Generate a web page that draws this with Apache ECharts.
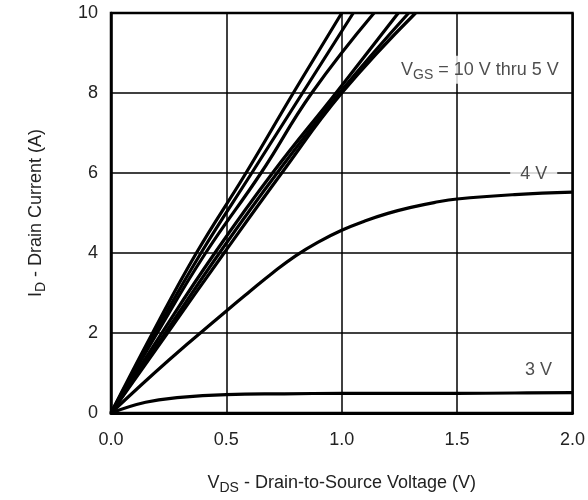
<!DOCTYPE html>
<html>
<head>
<meta charset="utf-8">
<script src="https://cdn.jsdelivr.net/npm/echarts@6/dist/echarts.min.js"></script>
<style>
  html, body { margin: 0; padding: 0; background: #fff; }
  #chart { width: 588px; height: 500px; }
</style>
</head>
<body>
<div id="chart"></div>
<script>
// Output characteristics: drain current vs drain-to-source voltage, one curve per gate voltage
const xTicks = [0.0, 0.5, 1.0, 1.5, 2.0];
const yTicks = [0, 2, 4, 6, 8, 10];

// High gate-voltage family (10 V down to 5 V), [VDS, ID]
const vgs10 = [[0, 0], [0.18, 2], [0.37, 4], [0.585, 6], [0.79, 8], [1.0, 10]];
const vgs9  = [[0, 0], [0.19, 2], [0.39, 4], [0.61, 6], [0.83, 8], [1.05, 10]];
const vgs8  = [[0, 0], [0.20, 2], [0.41, 4], [0.65, 6], [0.87, 8], [1.14, 10]];
const vgs7  = [[0, 0], [0.22, 2], [0.45, 4], [0.70, 6], [0.975, 8], [1.245, 10]];
const vgs6  = [[0, 0], [0.235, 2], [0.47, 4], [0.72, 6], [0.99, 8], [1.29, 10]];
const vgs5  = [[0, 0], [0.245, 2], [0.49, 4], [0.74, 6], [1.0, 8], [1.32, 10]];

// VGS = 4 V
const vgs4 = [[0, 0], [0.25, 1.32], [0.5, 2.55], [0.6, 3.03], [0.7, 3.5], [0.8, 3.93], [0.9, 4.28],
              [1.0, 4.57], [1.1, 4.8], [1.2, 4.99], [1.3, 5.14], [1.4, 5.26], [1.5, 5.35], [1.75, 5.46], [2.0, 5.52]];

// VGS = 3 V
const vgs3 = [[0, 0], [0.15, 0.27], [0.3, 0.39], [0.5, 0.46], [0.75, 0.48], [1.0, 0.49],
              [1.5, 0.49], [1.75, 0.5], [2.0, 0.51]];

// Curve annotations: [VDS, ID, text, padding]
const notes = [
  [1.599, 8.58, '{v|V}{s|GS}{v| = 10 V thru 5 V}', [2, 2, 2, 2]],
  [1.832, 5.98, '{v|4 V}', [2, 10, 2, 10]],
  [1.853, 1.08, '{v|3 V}', [2, 4, 2, 4]]
];

const textColor = '#222';
const fontFamily = '"Liberation Sans", Arial, Helvetica, sans-serif';

function richSet(size, sub) {
  return {
    v: { fontSize: size, color: textColor, fontFamily },
    s: { fontSize: sub, color: textColor, fontFamily, verticalAlign: 'bottom', padding: [Math.round(size * 0.55), 0, 0, 0] }
  };
}

function curve(name, data) {
  return {
    name, type: 'line', data, smooth: 0.45, symbol: 'none', clip: true,
    lineStyle: { color: '#000', width: 3.2 }, z: 3
  };
}

const chart = echarts.init(document.getElementById('chart'), null, { renderer: 'canvas' });
chart.setOption({
  animation: false,
  backgroundColor: '#fff',
  grid: { left: 111, right: 13, top: 13, bottom: 85, show: true, borderColor: '#000', borderWidth: 2.5, z: 5 },
  xAxis: {
    type: 'value', min: 0, max: 2, interval: 0.5,
    axisLine: { show: true, lineStyle: { color: '#000', width: 3 } },
    axisTick: { show: false },
    splitLine: { show: true, lineStyle: { color: '#000', width: 1.5 } },
    axisLabel: {
      color: textColor, fontSize: 18, fontFamily, margin: 18,
      formatter: v => v.toFixed(1)
    },
    name: '{v|V}{s|DS}{v| - Drain-to-Source Voltage (V)}',
    nameLocation: 'middle', nameGap: 58,
    nameTextStyle: { rich: richSet(18, 14) }
  },
  yAxis: {
    type: 'value', min: 0, max: 10, interval: 2,
    axisLine: { show: true, lineStyle: { color: '#000', width: 2.5 } },
    axisTick: { show: false },
    splitLine: { show: true, lineStyle: { color: '#000', width: 1.5 } },
    axisLabel: { color: textColor, fontSize: 18, fontFamily, margin: 13 },
    name: '{v|I}{s|D}{v| - Drain Current (A)}',
    nameLocation: 'middle', nameGap: 63,
    nameTextStyle: { rich: richSet(18, 14) }
  },
  series: [
    curve('10 V', vgs10),
    curve('9 V', vgs9),
    curve('8 V', vgs8),
    curve('7 V', vgs7),
    curve('6 V', vgs6),
    curve('5 V', vgs5),
    curve('4 V', vgs4),
    curve('3 V', vgs3),
    {
      type: 'scatter', symbolSize: 0, z: 6,
      data: notes.map(n => ({ value: [n[0], n[1]], label: { formatter: n[2], padding: n[3] } })),
      label: {
        show: true, position: 'inside',
        backgroundColor: '#fff', rich: richSet(18, 14)
      },
      silent: true
    }
  ]
});
</script>
</body>
</html>
